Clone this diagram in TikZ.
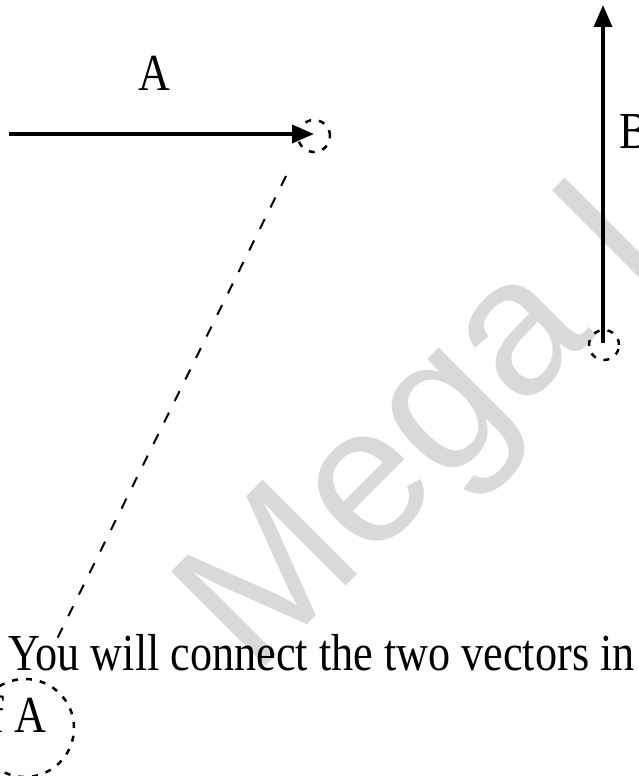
\documentclass[tikz,border=0pt]{standalone}
\usepackage{fontspec}
\setmainfont{Liberation Serif}
\newfontfamily\wmfont{Liberation Sans}
\usetikzlibrary{arrows.meta}
\definecolor{wmgray}{RGB}{217,217,217}
\begin{document}
\begin{tikzpicture}[x=1pt,y=-1pt,
  vec/.style={line width=3.5pt,-{Triangle[length=22pt,width=18pt]}},
  lbl/.style={font=\fontsize{52}{52}\selectfont, inner sep=0pt, xscale=0.85},
  dashcirc/.style={draw, circle, dash pattern=on 6pt off 8pt, line width=2.5pt, inner sep=0pt},
  guide/.style={line width=2pt, dash pattern=on 11pt off 13pt}]
\useasboundingbox (0,0) rectangle (638,776);
\clip (0,0) rectangle (638,776);
% watermark
\node[anchor=base west, rotate=45, inner sep=0pt, text=wmgray,
      font=\wmfont\fontsize{194}{194}\selectfont] (wm) at (254,678) {Mega Lecture};
% circles
\node[dashcirc, minimum size=32pt] (ca) at (314,136) {};
\node[dashcirc, minimum size=30pt] (cb) at (604,345) {};
\node[dashcirc, minimum size=98pt] (cc) at (25,728) {};
% vectors
\coordinate (atail) at (9,134);
\coordinate (atip) at (314,134);
\draw[vec] (atail) -- (atip);
\coordinate (btail) at (603,343);
\coordinate (btip) at (603,5);
\draw[vec] (btail) -- (btip);
% guide line
\coordinate (g0) at (286,176);
\coordinate (g1) at (54,645);
\draw[guide] (g0) -- (g1);
% labels
\node[lbl, anchor=base] (la) at (154,90) {A};
\node[lbl, anchor=base west] (lb) at (619,148) {B};
\node[lbl, anchor=base west] (txt) at (8,670) {You will connect the two vectors in};
\node[lbl, anchor=base east] (lc) at (47,732) {of A};
\end{tikzpicture}
\end{document}
